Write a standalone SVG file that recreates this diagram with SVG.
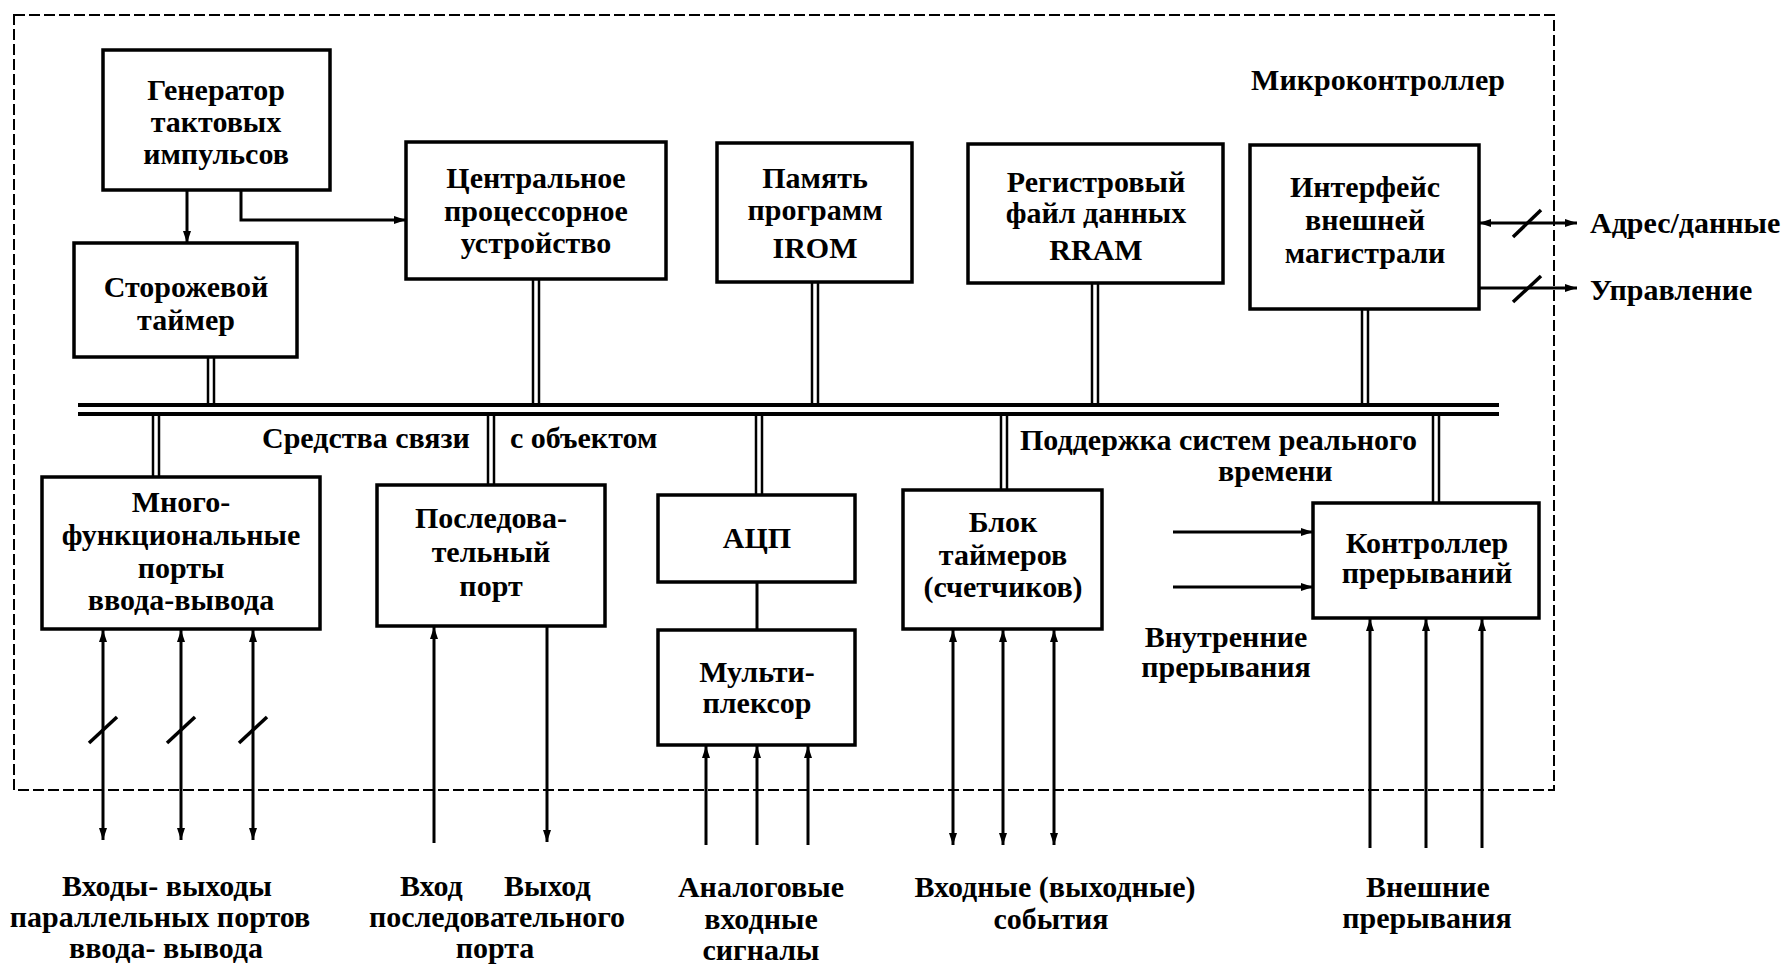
<svg xmlns="http://www.w3.org/2000/svg" width="1783" height="965" viewBox="0 0 1783 965">
<style>
.box{fill:#fff;stroke:#000;stroke-width:3.5}
.t{font-family:"Liberation Serif","Times New Roman",serif;font-weight:bold;font-size:30px;fill:#000}
.c{text-anchor:middle}
.ln{stroke:#000;stroke-width:3;fill:none}
.dl{stroke:#000;stroke-width:2.5}
.bus{stroke:#000;stroke-width:4}
.sl{stroke:#000;stroke-width:3.5}
.dash{fill:none;stroke:#000;stroke-width:2;stroke-dasharray:11 4}
</style>
<defs>
<marker id="ah" viewBox="0 0 12 8" refX="12" refY="4" markerWidth="12" markerHeight="8" orient="auto-start-reverse" markerUnits="userSpaceOnUse">
<path d="M0,0 L12,4 L0,8 z" fill="#000"/>
</marker>
</defs>
<rect width="1783" height="965" fill="#fff"/>
<g id="border">
<rect class="dash" x="14" y="15" width="1540" height="775"/>
<text class="t c" x="1378" y="90">Микроконтроллер</text>
</g>
<g id="connectors">
<line class="bus" x1="78" y1="405" x2="1499" y2="405"/>
<line class="bus" x1="78" y1="414" x2="1499" y2="414"/>
<line class="dl" x1="208" y1="357" x2="208" y2="403"/><line class="dl" x1="214" y1="357" x2="214" y2="403"/>
<line class="dl" x1="533" y1="279" x2="533" y2="403"/><line class="dl" x1="539" y1="279" x2="539" y2="403"/>
<line class="dl" x1="812" y1="282" x2="812" y2="403"/><line class="dl" x1="818" y1="282" x2="818" y2="403"/>
<line class="dl" x1="1092" y1="283" x2="1092" y2="403"/><line class="dl" x1="1098" y1="283" x2="1098" y2="403"/>
<line class="dl" x1="1362" y1="309" x2="1362" y2="403"/><line class="dl" x1="1368" y1="309" x2="1368" y2="403"/>
<line class="dl" x1="153" y1="416" x2="153" y2="477"/><line class="dl" x1="159" y1="416" x2="159" y2="477"/>
<line class="dl" x1="488" y1="416" x2="488" y2="485"/><line class="dl" x1="494" y1="416" x2="494" y2="485"/>
<line class="dl" x1="756" y1="416" x2="756" y2="495"/><line class="dl" x1="762" y1="416" x2="762" y2="495"/>
<line class="dl" x1="1001" y1="416" x2="1001" y2="490"/><line class="dl" x1="1007" y1="416" x2="1007" y2="490"/>
<line class="dl" x1="1433" y1="416" x2="1433" y2="503"/><line class="dl" x1="1439" y1="416" x2="1439" y2="503"/>
<path class="ln" d="M187,191 V243" marker-end="url(#ah)"/>
<path class="ln" d="M241,191 V220 H406" marker-end="url(#ah)"/>
<path class="ln" d="M1479,223 H1577" marker-start="url(#ah)" marker-end="url(#ah)"/>
<path class="ln" d="M1479,288 H1577" marker-end="url(#ah)"/>
<line class="sl" x1="1513" y1="237" x2="1541" y2="210"/>
<line class="sl" x1="1513" y1="302" x2="1541" y2="276"/>
<path class="ln" d="M103,630 V840" marker-start="url(#ah)" marker-end="url(#ah)"/>
<path class="ln" d="M181,630 V840" marker-start="url(#ah)" marker-end="url(#ah)"/>
<path class="ln" d="M253,630 V840" marker-start="url(#ah)" marker-end="url(#ah)"/>
<line class="sl" x1="89" y1="743" x2="117" y2="717"/>
<line class="sl" x1="167" y1="743" x2="195" y2="717"/>
<line class="sl" x1="239" y1="743" x2="267" y2="717"/>
<path class="ln" d="M434,843 V627" marker-end="url(#ah)"/>
<path class="ln" d="M547,627 V842" marker-end="url(#ah)"/>
<path class="ln" d="M757,582 V630"/>
<path class="ln" d="M706,845 V746" marker-end="url(#ah)"/>
<path class="ln" d="M757,845 V746" marker-end="url(#ah)"/>
<path class="ln" d="M808,845 V746" marker-end="url(#ah)"/>
<path class="ln" d="M953,630 V845" marker-start="url(#ah)" marker-end="url(#ah)"/>
<path class="ln" d="M1003,630 V845" marker-start="url(#ah)" marker-end="url(#ah)"/>
<path class="ln" d="M1054,630 V845" marker-start="url(#ah)" marker-end="url(#ah)"/>
<path class="ln" d="M1370,848 V619" marker-end="url(#ah)"/>
<path class="ln" d="M1426,848 V619" marker-end="url(#ah)"/>
<path class="ln" d="M1482,848 V619" marker-end="url(#ah)"/>
<path class="ln" d="M1173,532 H1313" marker-end="url(#ah)"/>
<path class="ln" d="M1173,587 H1313" marker-end="url(#ah)"/>
</g>
<g id="gen"><rect class="box" x="103" y="50" width="227" height="140"/>
<text class="t c" x="216" y="100">Генератор</text><text class="t c" x="216" y="132">тактовых</text><text class="t c" x="216" y="164">импульсов</text></g>
<g id="wdt"><rect class="box" x="74" y="243" width="223" height="114"/>
<text class="t c" x="186" y="297">Сторожевой</text><text class="t c" x="186" y="330">таймер</text></g>
<g id="cpu"><rect class="box" x="406" y="142" width="260" height="137"/>
<text class="t c" x="536" y="188">Центральное</text><text class="t c" x="536" y="221">процессорное</text><text class="t c" x="536" y="253">устройство</text></g>
<g id="irom"><rect class="box" x="717" y="143" width="195" height="139"/>
<text class="t c" x="815" y="188">Память</text><text class="t c" x="815" y="220">программ</text><text class="t c" x="815" y="258">IROM</text></g>
<g id="rram"><rect class="box" x="968" y="144" width="255" height="139"/>
<text class="t c" x="1096" y="192">Регистровый</text><text class="t c" x="1096" y="223">файл данных</text><text class="t c" x="1096" y="260">RRAM</text></g>
<g id="ext"><rect class="box" x="1250" y="145" width="229" height="164"/>
<text class="t c" x="1365" y="197">Интерфейс</text><text class="t c" x="1365" y="230">внешней</text><text class="t c" x="1365" y="263">магистрали</text></g>
<g id="mfp"><rect class="box" x="42" y="477" width="278" height="152"/>
<text class="t c" x="181" y="512">Много-</text><text class="t c" x="181" y="545">функциональные</text><text class="t c" x="181" y="578">порты</text><text class="t c" x="181" y="610">ввода-вывода</text></g>
<g id="ser"><rect class="box" x="377" y="485" width="228" height="141"/>
<text class="t c" x="491" y="528">Последова-</text><text class="t c" x="491" y="562">тельный</text><text class="t c" x="491" y="596">порт</text></g>
<g id="adc"><rect class="box" x="658" y="495" width="197" height="87"/>
<text class="t c" x="757" y="548">АЦП</text></g>
<g id="mux"><rect class="box" x="658" y="630" width="197" height="115"/>
<text class="t c" x="757" y="682">Мульти-</text><text class="t c" x="757" y="713">плексор</text></g>
<g id="tmr"><rect class="box" x="903" y="490" width="199" height="139"/>
<text class="t c" x="1003" y="532">Блок</text><text class="t c" x="1003" y="565">таймеров</text><text class="t c" x="1003" y="597">(счетчиков)</text></g>
<g id="irq"><rect class="box" x="1313" y="503" width="226" height="115"/>
<text class="t c" x="1427" y="553">Контроллер</text><text class="t c" x="1427" y="583">прерываний</text></g>
<g id="labels">
<text class="t" x="262" y="448">Средства связи</text>
<text class="t" x="510" y="448">с объектом</text>
<text class="t" x="1020" y="450">Поддержка систем реального</text>
<text class="t" x="1218" y="481">времени</text>
<text class="t c" x="1226" y="647">Внутренние</text>
<text class="t c" x="1226" y="677">прерывания</text>
<text class="t" x="1590" y="233">Адрес/данные</text>
<text class="t" x="1590" y="300">Управление</text>
<text class="t c" x="167" y="896">Входы- выходы</text>
<text class="t c" x="160" y="927">параллельных портов</text>
<text class="t c" x="166" y="958">ввода- вывода</text>
<text class="t" x="400" y="896">Вход</text>
<text class="t" x="504" y="896">Выход</text>
<text class="t c" x="497" y="927">последовательного</text>
<text class="t c" x="495" y="958">порта</text>
<text class="t c" x="761" y="897">Аналоговые</text>
<text class="t c" x="761" y="929">входные</text>
<text class="t c" x="761" y="960">сигналы</text>
<text class="t c" x="1055" y="897">Входные (выходные)</text>
<text class="t c" x="1051" y="929">события</text>
<text class="t c" x="1428" y="897">Внешние</text>
<text class="t c" x="1427" y="928">прерывания</text>
</g>
</svg>
